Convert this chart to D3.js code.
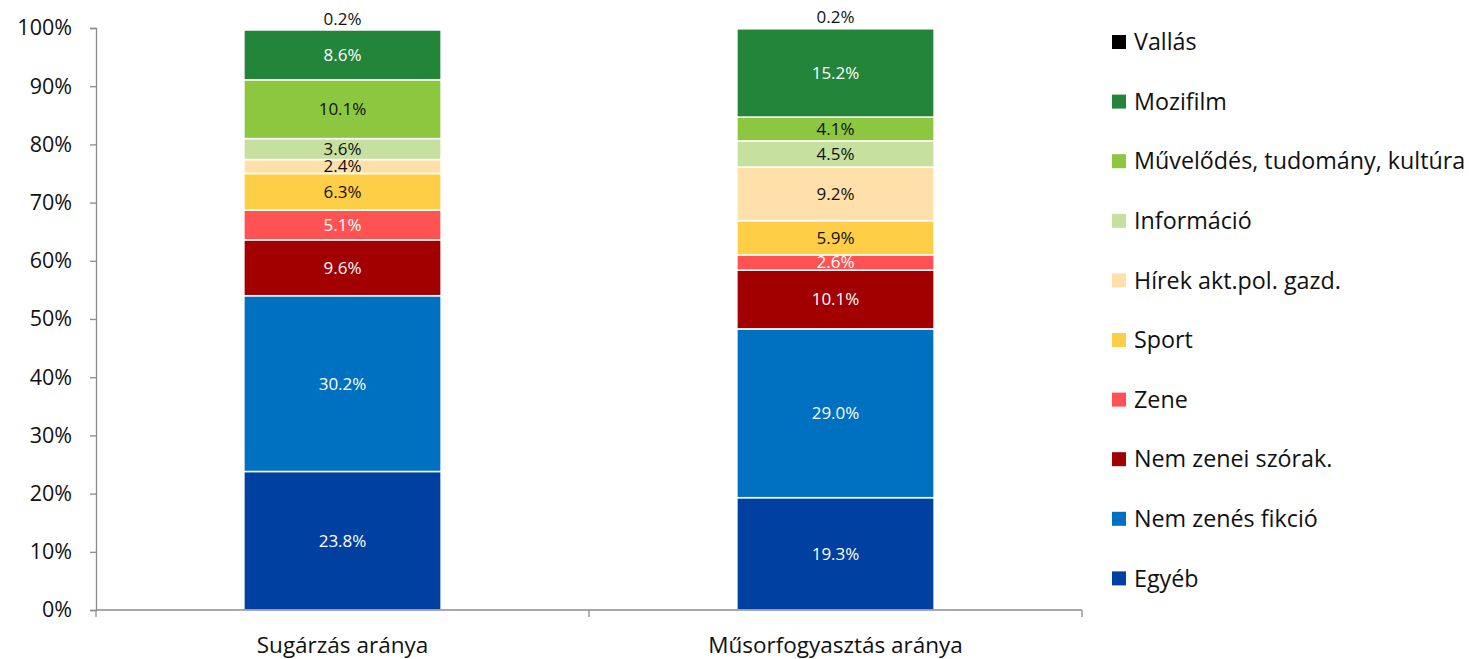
<!DOCTYPE html>
<html>
<head>
<meta charset="utf-8">
<script src="https://cdn.jsdelivr.net/npm/d3@7"></script>
<style>
  body { margin: 0; background: #fff; }
  text { font-family: "Open Sans", "Noto Sans", sans-serif; }
</style>
</head>
<body>
<svg id="chart" width="1469" height="659"></svg>
<script>
// categories on the x axis
const categories = ['Sugárzás aránya', 'Műsorfogyasztás aránya'];

// series, bottom of the stack first
const seriesNames = [
	'Egyéb',
	'Nem zenés fikció',
	'Nem zenei szórak.',
	'Zene',
	'Sport',
	'Hírek akt.pol. gazd.',
	'Információ',
	'Művelődés, tudomány, kultúra',
	'Mozifilm',
	'Vallás'
];

// percent values per series [Sugárzás, Műsorfogyasztás]
const egyeb = [23.8, 19.3];
const fikcio = [30.2, 29.0];
const szorak = [9.6, 10.1];
const zene = [5.1, 2.6];
const sport = [6.3, 5.9];
const hirek = [2.4, 9.2];
const informacio = [3.6, 4.5];
const muvelodes = [10.1, 4.1];
const mozifilm = [8.6, 15.2];
const vallas = [0.2, 0.2];

const seriesValues = [egyeb, fikcio, szorak, zene, sport, hirek, informacio, muvelodes, mozifilm, vallas];

const colors = ['#0040A0', '#0070C0', '#A20000', '#FF5252', '#FFCE47', '#FFE0AA', '#C5E09F', '#8DC63F', '#238539', '#000000'];
const labelColors = ['#fff', '#fff', '#fff', '#fff', '#111', '#111', '#111', '#111', '#fff', '#111'];

const yTicks = [0, 10, 20, 30, 40, 50, 60, 70, 80, 90, 100];

// build rows for d3.stack
var rows = categories.map(function(c, i){
	var row = { cat: c };
	seriesNames.forEach(function(s, j){ row[s] = seriesValues[j][i]; });
	return row;
});

var stacked = d3.stack().keys(seriesNames)(rows);

var svg = d3.select('#chart');

var margin = { left: 96, right: 387, top: 28, bottom: 49 };
var width = 1469 - margin.left - margin.right;
var height = 659 - margin.top - margin.bottom;

var x = d3.scaleBand().domain(categories).range([margin.left, margin.left + width]).paddingInner(0.6).paddingOuter(0.3);
var xOuter = d3.scaleBand().domain(categories).range([margin.left, margin.left + width]);
var y = d3.scaleLinear().domain([0, 100]).range([margin.top + height, margin.top]);

// y axis
var yAxis = svg.append('g')
	.attr('transform', `translate(${margin.left},0)`)
	.call(d3.axisLeft(y).tickValues(yTicks).tickSize(6).tickFormat(function(d){ return d + '%'; }));
yAxis.select('.domain').attr('stroke', '#8c8c8c').attr('stroke-width', 1.3);
yAxis.selectAll('.tick line').attr('stroke', '#8c8c8c').attr('stroke-width', 1.3);
yAxis.selectAll('.tick text')
	.attr('x', -24)
	.attr('fill', '#111')
	.style('font-size', '21.5px')
	.style('font-family', '"Open Sans", sans-serif');

// bars
var groups = svg.append('g').selectAll('g')
	.data(stacked)
	.enter().append('g')
	.attr('fill', function(d, i){ return colors[i]; });

groups.selectAll('rect')
	.data(function(d){ return d; })
	.enter().append('rect')
	.attr('x', function(d){ return x(d.data.cat); })
	.attr('width', x.bandwidth())
	.attr('y', function(d){ return y(d[1]); })
	.attr('height', function(d){ return y(d[0]) - y(d[1]); })
	.attr('stroke', '#fff')
	.attr('stroke-width', 1.5);

// data labels
stacked.forEach(function(layer, i){
	layer.forEach(function(d){
		var val = d[1] - d[0];
		var isTop = i === stacked.length - 1;
		var cy = isTop ? y(d[1]) - 10 : (y(d[0]) + y(d[1])) / 2;
		svg.append('text')
			.attr('x', x(d.data.cat) + x.bandwidth() / 2)
			.attr('y', cy)
			.attr('dy', '0.35em')
			.attr('text-anchor', 'middle')
			.attr('fill', labelColors[i])
			.style('font-size', '17px')
			.text(val.toFixed(1) + '%');
	});
});

// x axis
var xAxisY = margin.top + height;
var xAxis = svg.append('g').attr('transform', `translate(0,${xAxisY})`);
xAxis.append('line')
	.attr('x1', margin.left).attr('x2', margin.left + width)
	.attr('stroke', '#8c8c8c').attr('stroke-width', 1.3);
var xTickPos = [margin.left].concat(categories.map(function(c){ return xOuter(c) + xOuter.bandwidth(); }));
xAxis.selectAll('.xtick').data(xTickPos).enter().append('line')
	.attr('x1', function(d){ return d; }).attr('x2', function(d){ return d; })
	.attr('y1', 0).attr('y2', 7)
	.attr('stroke', '#8c8c8c').attr('stroke-width', 1.3);
xAxis.selectAll('.xlab').data(categories).enter().append('text')
	.attr('x', function(d){ return x(d) + x.bandwidth() / 2; })
	.attr('y', 43)
	.attr('text-anchor', 'middle')
	.attr('fill', '#111')
	.style('font-size', '22.5px')
	.text(function(d){ return d; });

// legend, top entry = top of stack
var legendNames = seriesNames.slice().reverse();
var legendColors = colors.slice().reverse();
var legend = svg.append('g').attr('transform', 'translate(1112,42)');
legendNames.forEach(function(name, i){
	var g = legend.append('g').attr('transform', `translate(0,${i * 59.6})`);
	g.append('rect')
		.attr('x', 0).attr('y', -7)
		.attr('width', 14).attr('height', 14)
		.attr('fill', legendColors[i]);
	g.append('text')
		.attr('x', 22).attr('y', 0)
		.attr('dy', '0.35em')
		.attr('fill', '#111')
		.style('font-size', '23.3px')
		.text(name);
});
</script>
</body>
</html>
